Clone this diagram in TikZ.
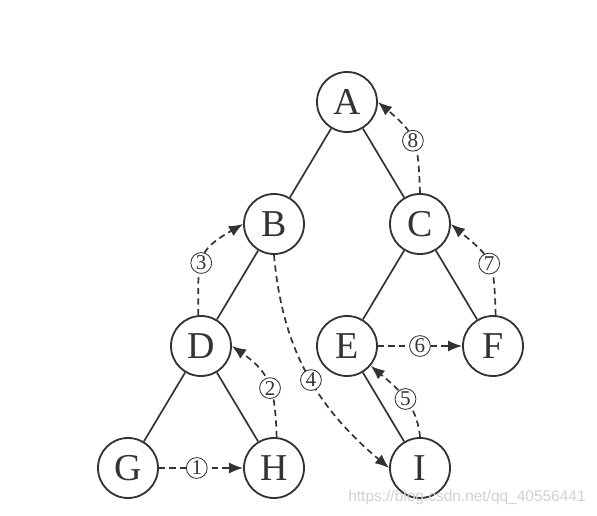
\documentclass[tikz,border=0pt]{standalone}
\usepackage{fontspec}
\setmainfont{Liberation Serif}
\newfontfamily\wmfont{Liberation Sans}
\usetikzlibrary{arrows.meta, positioning}
\definecolor{ink}{rgb}{0.2,0.2,0.2}
\tikzstyle{vertex} = [draw=ink, circle, line width=1.3pt, minimum size=1.5cm, inner sep=0pt, text=ink, font=\fontsize{27}{27}\selectfont]
\tikzstyle{edge} = [draw=ink, line width=1.2pt]
\tikzstyle{visit} = [arrows=->, draw=ink, line width=1.2pt, dash pattern=on 4.5pt off 3pt]
\tikzstyle{num} = [draw=ink, circle, solid, fill=white, line width=0.6pt, inner sep=0pt, minimum size=0.52cm, text=ink, font=\fontsize{15}{15}\selectfont]

\begin{document}
\begin{tikzpicture}[>={Latex[length=10pt,width=8pt]}, node distance=3.05cm and 1.825cm, on grid]
    \useasboundingbox (-8.675,2.55) rectangle (6.25,-10.325);

    % Place the vertices
    \node [vertex] (A) at (0,0) {A};
    \node [vertex, below left=of A] (B) {B};
    \node [vertex, below right=of A] (C) {C};
    \node [vertex, below left=of B] (D) {D};
    \node [vertex, below left=of C] (E) {E};
    \node [vertex, below right=of C] (F) {F};
    \node [vertex, below left=of D] (G) {G};
    \node [vertex, below right=of D] (H) {H};
    \node [vertex, below right=of E] (I) {I};

    % Tree edges
    \draw [edge] (A) -- (B);
    \draw [edge] (A) -- (C);
    \draw [edge] (B) -- (D);
    \draw [edge] (C) -- (E);
    \draw [edge] (C) -- (F);
    \draw [edge] (D) -- (G);
    \draw [edge] (D) -- (H);
    \draw [edge] (E) -- (I);

    % Visiting order
    \draw [visit] (G) -- node[num, pos=0.45] {1} (H);
    \draw [visit] (H.85) to[out=92, in=-35, looseness=1.2] node[num, pos=0.45] {2} (D.east);
    \draw [visit] (D.95) to[out=90, in=-150, looseness=1.4] node[num, pos=0.45] {3} (B.west);
    \draw [visit] (B.south) to[out=-85, in=140] node[num, pos=0.53] {4} (I.west);
    \draw [visit] (I.north) to[out=95, in=-40] node[num, pos=0.47] {5} (E.-40);
    \draw [visit] (E) -- node[num] {6} (F);
    \draw [visit] (F.85) to[out=92, in=-40, looseness=1.4] node[num, pos=0.48] {7} (C.east);
    \draw [visit] (C.north) to[out=92, in=-40, looseness=1.3] node[num, pos=0.5] {8} (A.east);

    \node [font=\wmfont\fontsize{11}{11}\selectfont, text=black!18] (wm) at (3.0,-9.875) {https://blog.csdn.net/qq\_40556441};
\end{tikzpicture}
\end{document}
